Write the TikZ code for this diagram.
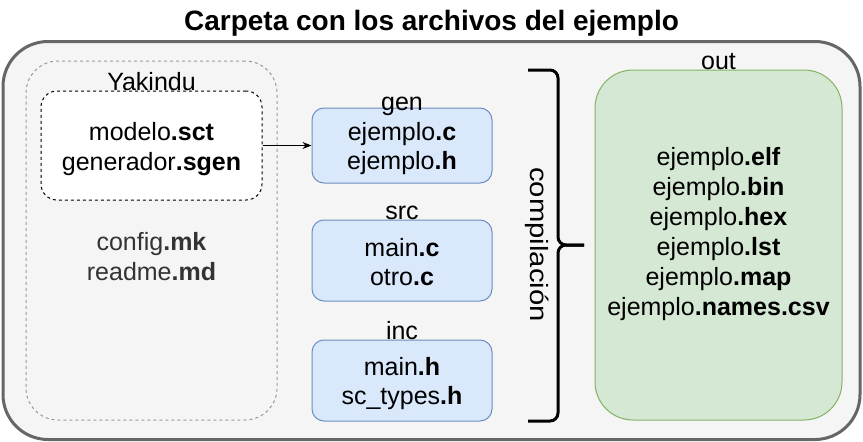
\documentclass[tikz,border=0pt]{standalone}
\usepackage{fontspec}
\setmainfont{Liberation Sans}
\usetikzlibrary{arrows.meta}
\definecolor{outerfill}{HTML}{F5F5F5}
\definecolor{outerline}{HTML}{666666}
\definecolor{yakline}{HTML}{999999}
\definecolor{bluefill}{HTML}{DAE8FC}
\definecolor{blueline}{HTML}{6C8EBF}
\definecolor{greenfill}{HTML}{D5E8D4}
\definecolor{greenline}{HTML}{82B366}
\definecolor{graytext}{HTML}{333333}
\begin{document}
\begin{tikzpicture}[x=1pt,y=-1pt,
  box/.style={draw, rectangle, inner sep=0pt},
  bluebox/.style={box, draw=blueline, fill=bluefill, line width=1pt, rounded corners=12pt, minimum width=180pt, minimum height=81pt},
  txt/.style={anchor=base, inner sep=0pt, font=\fontsize{25}{30}\selectfont},
  brace/.style={draw=black, line width=3pt, rounded corners=8pt},
]
\useasboundingbox (0,0) rectangle (863,442);
\fill[white] (0,0) rectangle (863,442);
% title
\node[txt, font=\bfseries\fontsize{28}{34}\selectfont] (title) at (431.5,30) {Carpeta con los archivos del ejemplo};
% outer folder
\node[box, draw=outerline, fill=outerfill, line width=3pt, rounded corners=45pt, minimum width=857pt, minimum height=398pt] (outer) at (431.5,240.5) {};
% Yakindu group
\node[box, draw=yakline, dash pattern=on 3pt off 3pt, line width=1pt, rounded corners=32pt, minimum width=251pt, minimum height=359pt] (yak) at (151.5,240.5) {};
\node[box, draw=black, fill=white, dash pattern=on 3pt off 3pt, line width=1pt, rounded corners=16pt, minimum width=221pt, minimum height=109pt] (model) at (151.5,145.5) {};
\node[txt] (yaklabel) at (151.5,90) {Yakindu};
\node[txt] (sct) at (151.5,140) {modelo\textbf{.sct}};
\node[txt] (sgen) at (151.5,170) {generador\textbf{.sgen}};
\node[txt, text=graytext] (mk) at (151.5,250) {config\textbf{.mk}};
\node[txt, text=graytext] (md) at (151.5,280) {readme\textbf{.md}};
% gen / src / inc
\node[bluebox, minimum height=75pt] (gen) at (402,145.5) {};
\node[bluebox] (src) at (402,260.5) {};
\node[bluebox] (inc) at (402,380.5) {};
\node[txt] (genlabel) at (402,110) {gen};
\node[txt] (genc) at (402,140) {ejemplo\textbf{.c}};
\node[txt] (genh) at (402,169) {ejemplo\textbf{.h}};
\node[txt] (srclabel) at (402,219) {src};
\node[txt] (mainc) at (402,256) {main\textbf{.c}};
\node[txt] (otroc) at (402,285) {otro\textbf{.c}};
\node[txt] (inclabel) at (402,339) {inc};
\node[txt] (mainh) at (402,375) {main\textbf{.h}};
\node[txt] (types) at (402,404) {sc\_types\textbf{.h}};
% arrow
\draw[line width=1pt, -{Stealth[length=9pt,width=7pt]}] (model.east) -- (gen.west);
% brace
\coordinate (btop) at (528,70);
\coordinate (bbot) at (528,421);
\coordinate (btip) at (584,245);
\draw[brace] (btop) -- (558,70) -- (558,245) -- (btip);
\draw[brace] (bbot) -- (558,421) -- (558,245) -- (btip);
\node[txt, anchor=center, rotate=-90, xscale=1.17] (comp) at (537,244.5) {compilación};
% out
\node[box, draw=greenline, fill=greenfill, line width=1pt, rounded corners=38pt, minimum width=247pt, minimum height=350pt] (out) at (718.5,245) {};
\node[txt] (outlabel) at (718.5,69) {out};
\node[txt] (elf) at (718.5,165) {ejemplo\textbf{.elf}};
\node[txt] (bin) at (718.5,195) {ejemplo\textbf{.bin}};
\node[txt] (hex) at (718.5,225) {ejemplo\textbf{.hex}};
\node[txt] (lst) at (718.5,255) {ejemplo\textbf{.lst}};
\node[txt] (map) at (718.5,285) {ejemplo\textbf{.map}};
\node[txt] (csv) at (718.5,315) {ejemplo\textbf{.names.csv}};
\end{tikzpicture}
\end{document}
